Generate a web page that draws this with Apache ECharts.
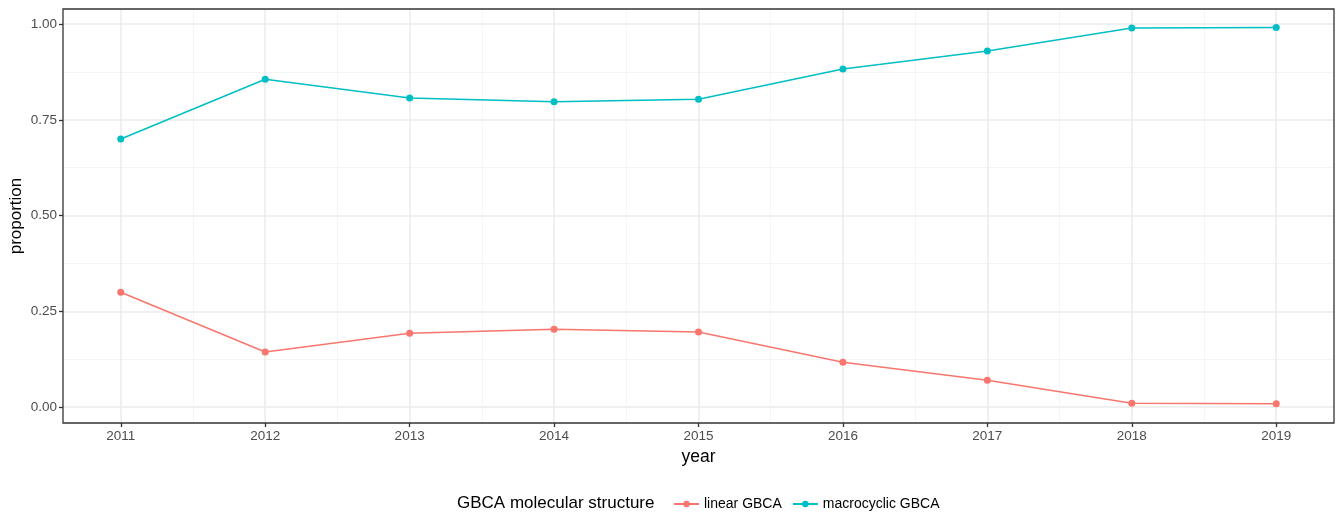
<!DOCTYPE html>
<html>
<head>
<meta charset="utf-8">
<script src="https://cdn.jsdelivr.net/npm/echarts@6/dist/echarts.min.js"></script>
<style>html,body{margin:0;padding:0;background:#fff}#c{width:1336px;height:513px}</style>
</head>
<body>
<div id="c"></div>
<script>
var years = [2011, 2012, 2013, 2014, 2015, 2016, 2017, 2018, 2019];
var linearGBCA = [0.300, 0.144, 0.193, 0.203, 0.196, 0.117, 0.070, 0.010, 0.009];
var macrocyclicGBCA = [0.700, 0.856, 0.807, 0.797, 0.804, 0.883, 0.930, 0.990, 0.991];
var yTicks = [0, 0.25, 0.5, 0.75, 1];
var yMinor = [0.125, 0.375, 0.625, 0.875];
var xMinor = [2011.5, 2012.5, 2013.5, 2014.5, 2015.5, 2016.5, 2017.5, 2018.5];
var seriesNames = ['linear GBCA', 'macrocyclic GBCA'];
var colors = ['#F8766D', '#00BFC4'];

var FONT = 'Liberation Sans, Arial, sans-serif';
var chart = echarts.init(document.getElementById('c'), null, {renderer: 'canvas'});

function pairs(vals) { return years.map(function (y, i) { return [y, vals[i]]; }); }

var option = {
  animation: false,
  backgroundColor: '#fff',
  textStyle: {fontFamily: FONT},
  grid: {left: 63, right: 2, top: 9, bottom: 90, containLabel: false, outerBoundsMode: 'none', show: true, borderColor: '#333', borderWidth: 1.3, backgroundColor: 'transparent', z: 10},
  xAxis: [{
    type: 'value', min: 2010.6, max: 2019.4,
    name: 'year', nameLocation: 'middle', nameGap: 25, nameMoveOverlap: false,
    nameTextStyle: {fontSize: 17.5, color: '#000', fontFamily: FONT},
    axisLine: {show: false, onZero: false},
    axisTick: {show: true, inside: false, length: 4, lineStyle: {color: '#333', width: 1.3}, customValues: years},
    axisLabel: {customValues: years, color: '#4d4d4d', fontSize: 13.5, margin: 6, fontFamily: FONT, formatter: function (v) { return String(v); }},
    splitLine: {show: true, lineStyle: {color: '#ebebeb', width: 1.5}}
  }, {
    type: 'value', min: 2010.6, max: 2019.4, position: 'bottom',
    axisLine: {show: false, onZero: false}, axisLabel: {show: false},
    axisTick: {show: false, customValues: xMinor},
    splitLine: {show: true, lineStyle: {color: '#f3f3f3', width: 0.8}}
  }],
  yAxis: [{
    type: 'value', min: -0.0415, max: 1.0395,
    name: 'proportion', nameLocation: 'middle', nameGap: 38, nameMoveOverlap: false,
    nameTextStyle: {fontSize: 17, color: '#000', fontFamily: FONT},
    axisLine: {show: false, onZero: false},
    axisTick: {show: true, inside: false, length: 4, lineStyle: {color: '#333', width: 1.3}, customValues: yTicks},
    axisLabel: {customValues: yTicks, color: '#4d4d4d', fontSize: 13.5, margin: 6, fontFamily: FONT, formatter: function (v) { return v.toFixed(2); }},
    splitLine: {show: true, lineStyle: {color: '#ebebeb', width: 1.5}}
  }, {
    type: 'value', min: -0.0415, max: 1.0395, position: 'left',
    axisLine: {show: false, onZero: false}, axisLabel: {show: false},
    axisTick: {show: false, customValues: yMinor},
    splitLine: {show: true, lineStyle: {color: '#f3f3f3', width: 0.8}}
  }],
  legend: {
    left: 668, top: 492, itemWidth: 25, itemHeight: 8, itemGap: 10,
    textStyle: {fontSize: 14, color: '#000', fontFamily: FONT, padding: [0, 0, 0, 0]},
    data: seriesNames
  },
  graphic: [{
    type: 'text', left: 457, top: 495,
    style: {text: 'GBCA molecular structure', font: '17px ' + FONT, fill: '#000'}
  }],
  series: [
    {name: seriesNames[0], type: 'line', data: pairs(linearGBCA), color: colors[0], symbol: 'circle', symbolSize: 7, lineStyle: {width: 1.5}, z: 5},
    {name: seriesNames[1], type: 'line', data: pairs(macrocyclicGBCA), color: colors[1], symbol: 'circle', symbolSize: 7, lineStyle: {width: 1.5}, z: 5}
  ]
};
chart.setOption(option);
</script>
</body>
</html>
